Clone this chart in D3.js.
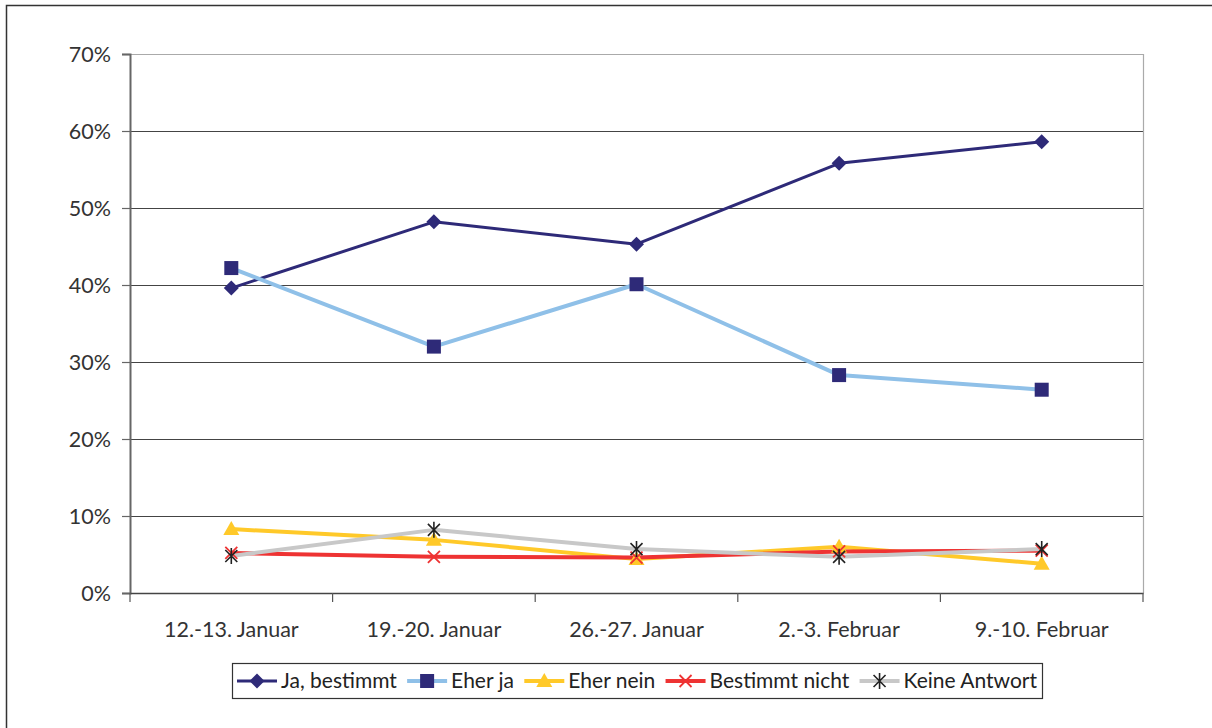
<!DOCTYPE html>
<html><head><meta charset="utf-8">
<script src="https://cdn.jsdelivr.net/npm/d3@7/dist/d3.min.js"></script>
<style>body{margin:0;background:#fff}svg{display:block}text{font-family:Lato,"Open Sans",sans-serif;fill:#222}</style>
</head><body><svg id="c" width="1212" height="728"></svg>
<script>
const categories = ["12.-13. Januar","19.-20. Januar","26.-27. Januar","2.-3. Februar","9.-10. Februar"];
const jaBestimmt = [39.6, 48.2, 45.3, 55.8, 58.6];
const eherJa = [42.2, 32.0, 40.1, 28.3, 26.4];
const eherNein = [8.3, 6.9, 4.4, 6.0, 3.8];
const bestimmtNicht = [5.2, 4.7, 4.6, 5.4, 5.5];
const keineAntwort = [4.8, 8.2, 5.7, 4.7, 5.7];
const yTicks = [0,10,20,30,40,50,60,70];
const seriesNames = ["Ja, bestimmt","Eher ja","Eher nein","Bestimmt nicht","Keine Antwort"];

const series = [
 {name:seriesNames[0], values:jaBestimmt, line:"#2e2a78", marker:"diamond", mcolor:"#2e2a78", w:3},
 {name:seriesNames[1], values:eherJa, line:"#8fc0e8", marker:"square", mcolor:"#2e2a78", w:4},
 {name:seriesNames[2], values:eherNein, line:"#ffc929", marker:"triangle", mcolor:"#ffc929", w:4},
 {name:seriesNames[3], values:bestimmtNicht, line:"#ee3333", marker:"x", mcolor:"#ee3333", w:4},
 {name:seriesNames[4], values:keineAntwort, line:"#c8c8c8", marker:"star", mcolor:"#222", w:4}
];

const svg = d3.select("#c");
svg.append("rect").attr("x",6.5).attr("y",5.5).attr("width",1230).attr("height",740)
  .attr("fill","none").attr("stroke","#333").attr("stroke-width",1.5);

const L=130, R=1143, T=54, B=593;
const x = d3.scaleBand().domain(categories).range([L,R]);
const y = d3.scaleLinear().domain([0,70]).range([B,T]);

svg.append("g").selectAll("line").data(yTicks.filter(t=>t>0 && t<70)).join("line")
  .attr("x1",L).attr("x2",R).attr("y1",d=>y(d)+0.5).attr("y2",d=>y(d)+0.5)
  .attr("stroke","#444").attr("stroke-width",1);
svg.append("path").attr("d",`M${L},${T+0.5}H${R+0.5}V${B}`).attr("fill","none").attr("stroke","#aaa").attr("stroke-width",1.2);

const ya = svg.append("g").attr("transform",`translate(${L},0)`)
  .call(d3.axisLeft(y).tickValues(yTicks).tickSize(8).tickFormat(d=>d+"%"));
ya.select(".domain").attr("stroke","#666").attr("stroke-width",2);
ya.selectAll(".tick line").attr("stroke","#666").attr("stroke-width",1.2);
ya.selectAll(".tick text").attr("x",-19).attr("dy","0.35em").style("font-size","21.5px").style("fill","#333");

const xa = svg.append("g").attr("transform",`translate(0,${B})`)
  .call(d3.axisBottom(x).tickSize(0).tickPadding(29));
xa.select(".domain").attr("stroke","#444").attr("stroke-width",1.5);
xa.selectAll(".tick text").style("font-size","21.5px").style("fill","#333");
const bounds = categories.map(c=>x(c)).concat([R]);
svg.append("g").selectAll("line").data(bounds).join("line")
  .attr("x1",d=>d).attr("x2",d=>d).attr("y1",B).attr("y2",B+9)
  .attr("stroke","#555").attr("stroke-width",1.2);

const cx = c => x(c)+x.bandwidth()/2;
const lineGen = d3.line().x((d,i)=>cx(categories[i])).y(d=>y(d));

function drawMarker(g, type, color, px, py){
  const s = 7.5;
  if(type==="diamond"){
    g.append("path").attr("d",`M${px},${py-s}L${px+s},${py}L${px},${py+s}L${px-s},${py}Z`).attr("fill",color);
  } else if(type==="square"){
    g.append("rect").attr("x",px-7).attr("y",py-7).attr("width",14).attr("height",14).attr("fill",color);
  } else if(type==="triangle"){
    g.append("path").attr("d",`M${px},${py-8}L${px+8},${py+6}L${px-8},${py+6}Z`).attr("fill",color);
  } else if(type==="x"){
    g.append("path").attr("d",`M${px-6},${py-6}L${px+6},${py+6}M${px+6},${py-6}L${px-6},${py+6}`).attr("stroke",color).attr("stroke-width",1.8);
  } else if(type==="star"){
    g.append("path").attr("d",`M${px-6},${py-6}L${px+6},${py+6}M${px+6},${py-6}L${px-6},${py+6}M${px},${py-8}L${px},${py+8}`).attr("stroke",color).attr("stroke-width",1.6);
  }
}

series.forEach(s=>{
  svg.append("path").datum(s.values).attr("d",lineGen).attr("fill","none")
    .attr("stroke",s.line).attr("stroke-width",s.w).attr("stroke-linejoin","round");
});
series.forEach(s=>{
  const g = svg.append("g");
  s.values.forEach((v,i)=>drawMarker(g, s.marker, s.mcolor, cx(categories[i]), y(v)));
});

// legend
const lg = svg.append("g");
const LX0=232, LX1=1042;
lg.append("rect").attr("x",LX0+0.5).attr("y",663.5).attr("width",LX1-LX0).attr("height",35).attr("fill","#fff").attr("stroke","#333").attr("stroke-width",1.2);
const ly = 681;
const texts = series.map(s=>lg.append("text").attr("y",ly).attr("dy","0.35em").style("font-size","21px").style("fill","#222").text(s.name));
const widths = texts.map(t=>t.node().getComputedTextLength());
const sw = 40, tg = 4;
const used = widths.reduce((a,b)=>a+b,0) + series.length*(sw+tg);
const gap = (LX1-LX0-10 - used)/(series.length-1);
let lx = LX0+5;
series.forEach((s,i)=>{
  lg.append("line").attr("x1",lx).attr("x2",lx+sw).attr("y1",ly).attr("y2",ly).attr("stroke",s.line).attr("stroke-width",s.w);
  drawMarker(lg, s.marker, s.mcolor, lx+sw/2, ly);
  texts[i].attr("x",lx+sw+tg);
  lx += sw + tg + widths[i] + gap;
});
</script></body></html>
